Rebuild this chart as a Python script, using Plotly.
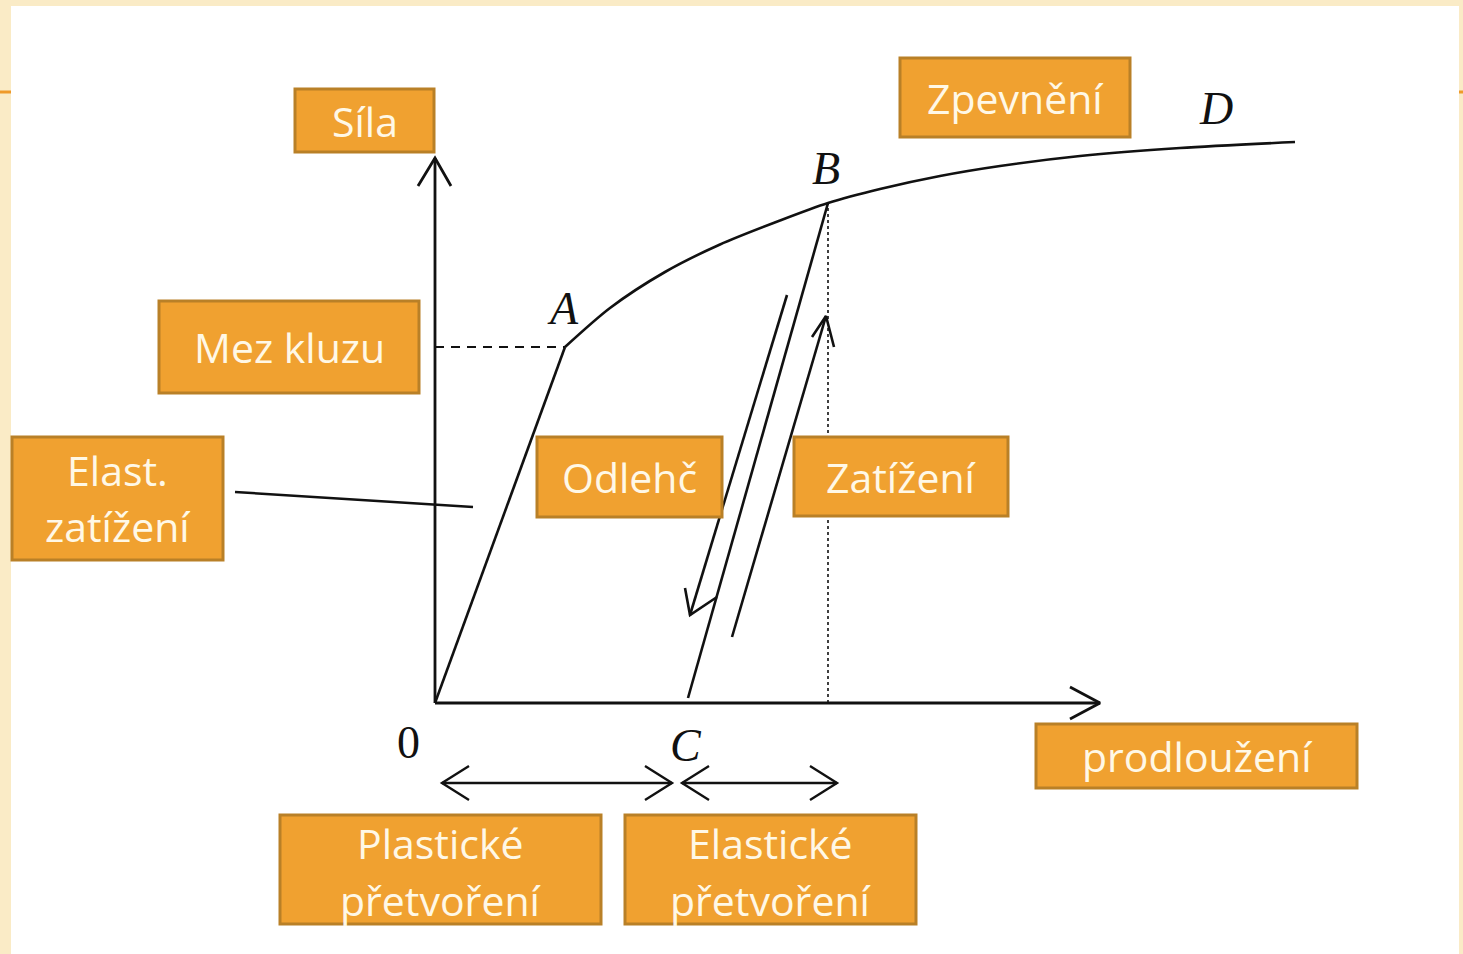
import plotly.graph_objects as go

W, H = 1463, 954
# pixel -> diagram-unit conversion (origin of diagram at pixel 435,703; 100 px per unit)
OX, OY, S = 435.0, 703.0, 100.0
def dx(px): return (px - OX) / S
def dy(py): return (OY - py) / S

# ---------------- data (diagram units: x = elongation, y = force) ----------------
elastic_x = [0.0, 1.30]
elastic_y = [0.0, 3.56]
hardening_x = [1.30, 1.75, 2.30, 2.85, 3.45, 3.93, 4.45, 5.05, 5.65, 6.45, 7.45, 8.60]
hardening_y = [3.56, 3.95, 4.31, 4.585, 4.825, 5.00, 5.14, 5.27, 5.37, 5.47, 5.55, 5.61]
unload_x = [3.93, 2.53]
unload_y = [5.00, 0.05]
yield_x = [0.0, 1.30]
yield_y = [3.56, 3.56]
b_drop_x = [3.93, 3.93]
b_drop_y = [0.0, 5.00]

force_axis_x = [0.0, 0.0]
force_axis_y = [0.0, 5.45]
elong_axis_x = [0.0, 6.65]
elong_axis_y = [0.0, 0.0]

unload_arrow_x = [3.52, 2.55]
unload_arrow_y = [4.08, 0.88]
load_arrow_x = [2.97, 3.91]
load_arrow_y = [0.66, 3.87]

plastic_span = [0.07, 2.37]
elastic_span = [2.47, 4.02]
span_level = -0.80

leader_x = [-2.00, 0.38]
leader_y = [2.11, 1.96]

point_names = ["0", "A", "B", "C", "D"]
point_x = [-0.27, 1.28, 3.91, 2.51, 7.81]
point_y = [-0.39, 3.95, 5.35, -0.42, 5.95]
point_italic = [False, True, True, True, True]

box_texts = [["Síla"], ["Zpevnění"], ["Mez kluzu"], ["Elast.", "zatížení"], ["Odlehč"],
             ["Zatížení"], ["prodloužení"], ["Plastické", "přetvoření"], ["Elastické", "přetvoření"]]
# box bounds in pixels (x0, x1, y0, y1)
box_px = [(295, 434, 89, 152), (900, 1130, 58, 137), (159, 419, 301, 393),
          (12, 223, 437, 560), (537, 722, 437, 517), (794, 1008, 437, 516),
          (1036, 1357, 724, 788), (280, 601, 815, 924), (625, 916, 815, 924)]

# ---------------- figure ----------------
BLACK = "#111111"
fig = go.Figure()

def seg(xs, ys, width=2.6, dash="solid", shape="linear"):
    fig.add_trace(go.Scatter(x=xs, y=ys, mode="lines",
                             line=dict(color=BLACK, width=width, dash=dash, shape=shape, smoothing=0.8),
                             hoverinfo="skip", showlegend=False))

def chevron(tip_x, tip_y, w1, w2, width=2.6):
    seg([w1[0], tip_x, w2[0]], [w1[1], tip_y, w2[1]], width)

# axes
seg(force_axis_x, force_axis_y, 2.8)
chevron(force_axis_x[1], force_axis_y[1], (-0.17, 5.17), (0.16, 5.17), 2.8)
seg(elong_axis_x, elong_axis_y, 2.8)
chevron(elong_axis_x[1], elong_axis_y[1], (6.35, 0.16), (6.35, -0.16), 2.8)

# curves
seg(elastic_x, elastic_y)
seg(hardening_x, hardening_y, shape="spline")
seg(unload_x, unload_y)
seg(yield_x, yield_y, 2.2, dash="9px,7px")
seg(b_drop_x, b_drop_y, 1.6, dash="dot")
seg(leader_x, leader_y, 2.4)

# unload / load arrows
seg(unload_arrow_x, unload_arrow_y)
chevron(unload_arrow_x[1], unload_arrow_y[1], (2.50, 1.15), (2.82, 1.06))
seg(load_arrow_x, load_arrow_y)
chevron(load_arrow_x[1], load_arrow_y[1], (3.77, 3.66), (3.99, 3.56))

# span double arrows
for a, b in (plastic_span, elastic_span):
    seg([a, b], [span_level, span_level], 2.4)
    chevron(a, span_level, (a + 0.27, span_level + 0.17), (a + 0.27, span_level - 0.17), 2.4)
    chevron(b, span_level, (b - 0.27, span_level + 0.17), (b - 0.27, span_level - 0.17), 2.4)

shapes = []
# page background: white sheet
shapes.append(dict(type="rect", xref="x", yref="y", x0=dx(11), x1=dx(1459), y0=dy(6), y1=dy(960),
                   fillcolor="white", line=dict(width=0), layer="below"))
shapes.append(dict(type="line", xref="x", yref="y", x0=dx(0), x1=dx(11), y0=dy(92), y1=dy(92),
                   line=dict(color="#EF9A2A", width=3), layer="below"))
shapes.append(dict(type="line", xref="x", yref="y", x0=dx(1459), x1=dx(1463), y0=dy(92), y1=dy(92),
                   line=dict(color="#EF9A2A", width=3), layer="below"))

annotations = []
FILL, EDGE, TXT = "#F0A130", "#B98027", "#FFF8E6"
for lines, (x0, x1, y0, y1) in zip(box_texts, box_px):
    shapes.append(dict(type="rect", xref="x", yref="y", x0=dx(x0), x1=dx(x1), y0=dy(y0), y1=dy(y1),
                       fillcolor=FILL, line=dict(color=EDGE, width=3), layer="above"))
    n = len(lines)
    cx = (x0 + x1) / 2
    if n == 1:
        cys = [(y0 + y1) / 2]
    else:
        cys = [y0 + 33, y0 + 89] if (y1 - y0) > 115 else [y0 + 28, y0 + 85]
    for t, cy in zip(lines, cys):
        annotations.append(dict(x=dx(cx), y=dy(cy), xref="x", yref="y", text=t, showarrow=False,
                                font=dict(family="Open Sans", size=41, color=TXT),
                                xanchor="center", yanchor="middle"))

for nm, px_, py_, it in zip(point_names, point_x, point_y, point_italic):
    annotations.append(dict(x=px_, y=py_, xref="x", yref="y", text=(f"<i>{nm}</i>" if it else nm),
                            showarrow=False, font=dict(family="Liberation Serif", size=46, color=BLACK),
                            xanchor="center", yanchor="middle"))

fig.update_layout(
    width=W, height=H, margin=dict(l=0, r=0, t=0, b=0),
    paper_bgcolor="#FAEBC6", plot_bgcolor="#FAEBC6",
    xaxis=dict(range=[dx(0), dx(W)], visible=False, fixedrange=True),
    yaxis=dict(range=[dy(H), dy(0)], visible=False, fixedrange=True),
    shapes=shapes, annotations=annotations, showlegend=False,
)

fig.write_html("out.html", config={"displayModeBar": False},
               post_script="document.body.style.margin='0';document.body.style.overflow='hidden';")
